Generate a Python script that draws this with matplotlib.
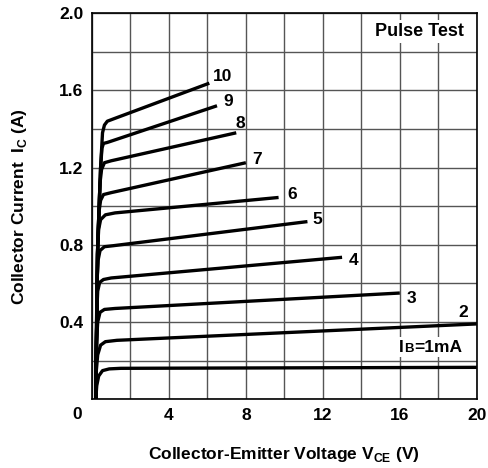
import matplotlib
matplotlib.use("Agg")
import matplotlib.pyplot as plt
from matplotlib.offsetbox import TextArea, HPacker, AnnotationBbox

plt.rcParams["font.family"] = ["Liberation Sans", "DejaVu Sans"]
plt.rcParams["font.weight"] = "bold"
plt.rcParams["mathtext.fontset"] = "custom"
plt.rcParams["mathtext.rm"] = "Liberation Sans:bold"
plt.rcParams["mathtext.bf"] = "Liberation Sans:bold"

# =====================================
# DATA
# =====================================
ib_labels = ["1", "2", "3", "4", "5", "6", "7", "8", "9", "10"]

vce_1 = [0.2, 0.25, 0.35, 0.55, 0.9, 1.5, 20]
ic_1 = [0.0, 0.07, 0.12, 0.148, 0.157, 0.16, 0.165]

vce_2 = [0.2, 0.23, 0.3, 0.45, 0.7, 1.3, 20]
ic_2 = [0.0, 0.15, 0.23, 0.28, 0.298, 0.305, 0.39]

vce_3 = [0.2, 0.24, 0.3, 0.42, 0.65, 1.2, 16]
ic_3 = [0.0, 0.3, 0.4, 0.45, 0.465, 0.47, 0.55]

vce_4 = [0.2, 0.25, 0.3, 0.4, 0.6, 1.0, 13]
ic_4 = [0.0, 0.45, 0.56, 0.605, 0.62, 0.628, 0.735]

vce_5 = [0.2, 0.26, 0.32, 0.42, 0.65, 1.1, 11.2]
ic_5 = [0.0, 0.6, 0.72, 0.77, 0.79, 0.795, 0.92]

vce_6 = [0.2, 0.28, 0.35, 0.45, 0.7, 1.2, 9.7]
ic_6 = [0.0, 0.75, 0.88, 0.93, 0.955, 0.965, 1.045]

vce_7 = [0.2, 0.3, 0.38, 0.45, 0.6, 1.0, 8.0]
ic_7 = [0.0, 0.8, 0.98, 1.03, 1.06, 1.07, 1.225]

vce_8 = [0.2, 0.3, 0.42, 0.5, 0.65, 1.0, 7.5]
ic_8 = [0.0, 0.8, 1.12, 1.19, 1.225, 1.235, 1.38]

vce_9 = [0.2, 0.3, 0.45, 0.52, 0.6, 0.8, 6.5]
ic_9 = [0.0, 0.8, 1.2, 1.3, 1.325, 1.33, 1.52]

vce_10 = [0.2, 0.3, 0.45, 0.55, 0.65, 0.8, 1.2, 6.1]
ic_10 = [0.0, 0.8, 1.2, 1.38, 1.42, 1.44, 1.455, 1.637]

label_x = [None, 19.3, 16.6, 13.6, 11.7, 10.4, 8.6, 7.7, 7.1, 6.8]
label_y = [None, 0.45, 0.52, 0.72, 0.93, 1.06, 1.24, 1.43, 1.54, 1.67]

x_ticks = [4, 8, 12, 16, 20]
y_ticks = [0.4, 0.8, 1.2, 1.6, 2.0]

curves = [
    (vce_1, ic_1), (vce_2, ic_2), (vce_3, ic_3), (vce_4, ic_4),
    (vce_5, ic_5), (vce_6, ic_6), (vce_7, ic_7), (vce_8, ic_8),
    (vce_9, ic_9), (vce_10, ic_10),
]

FS = 12.5

# =====================================
# FIGURE
# =====================================
fig = plt.figure(figsize=(4.89, 4.68), dpi=100)
ax = fig.add_axes([0.188, 0.147, 0.787, 0.825])

ax.set_xlim(0, 20)
ax.set_ylim(0, 2.0)

ax.set_xticks(x_ticks)
ax.set_xticklabels([str(v) for v in x_ticks])
ax.set_yticks(y_ticks)
ax.set_yticklabels([f"{v:.1f}" for v in y_ticks])
ax.set_xticks(range(0, 21, 2), minor=True)
ax.set_yticks([i * 0.2 for i in range(11)], minor=True)
ax.grid(True, which="both", color="#555555", linewidth=1.0)
ax.set_axisbelow(True)
ax.tick_params(which="both", length=0, labelsize=FS, pad=6)

for side in ax.spines.values():
    side.set_linewidth(1.2)
    side.set_color("black")

for vce, ic in curves:
    ax.plot(vce, ic, color="black", linewidth=2.4,
            solid_joinstyle="round", solid_capstyle="butt")

for lbl, lx, ly in zip(ib_labels, label_x, label_y):
    if lx is None:
        continue
    ax.text(lx, ly, lbl, fontsize=FS, fontweight="bold",
            ha="center", va="center")

# shared origin label, below-left of the corner
ax.text(-0.027, -0.04, "0", transform=ax.transAxes, fontsize=FS,
        fontweight="bold", ha="right", va="center")

ax.text(17.0, 1.905, "Pulse Test", fontsize=13, fontweight="bold",
        ha="center", va="center",
        bbox=dict(facecolor="white", edgecolor="none", pad=2.0))

# IB=1mA with small-cap B
parts = HPacker(children=[
    TextArea("I", textprops=dict(fontsize=FS, fontweight="bold")),
    TextArea("B", textprops=dict(fontsize=9.5, fontweight="bold")),
    TextArea("=1mA", textprops=dict(fontsize=FS, fontweight="bold")),
], align="baseline", pad=0, sep=0.5)
ab = AnnotationBbox(parts, (17.6, 0.27), frameon=True,
                    bboxprops=dict(facecolor="white", edgecolor="none"),
                    pad=0.15)
ax.add_artist(ab)

ax.set_xlabel(r"Collector-Emitter Voltage V$_{\mathrm{CE}}$ (V)",
              fontsize=FS, fontweight="bold", labelpad=16)
ax.set_ylabel(r"Collector Current  I$_{\mathrm{C}}$ (A)",
              fontsize=FS, fontweight="bold", labelpad=22)

fig.savefig("out.png", dpi=100)
